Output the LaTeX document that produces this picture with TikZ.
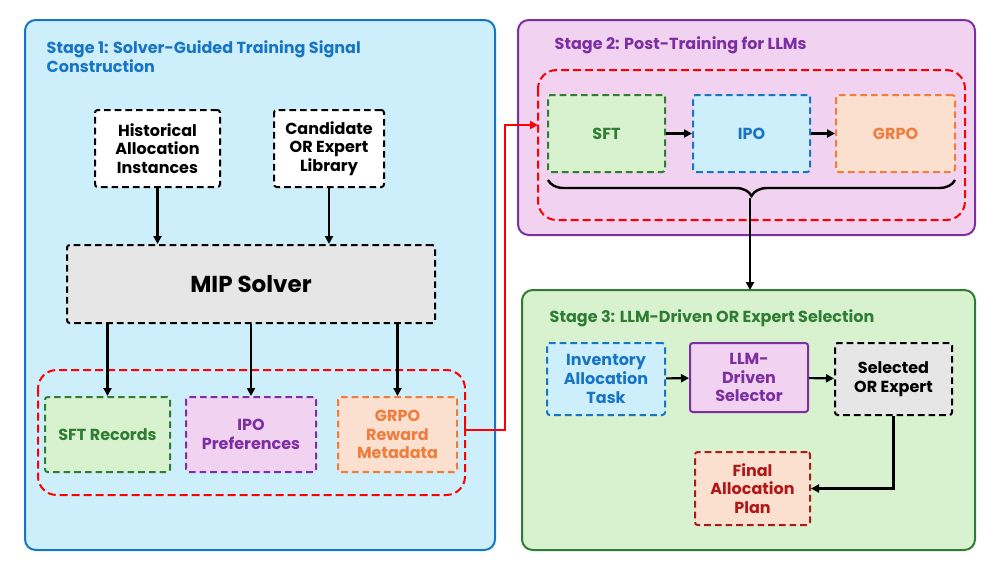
\documentclass[tikz,border=0pt]{standalone}
\usepackage{fontspec}
\setmainfont{Poppins}
\usetikzlibrary{arrows.meta,decorations.pathreplacing}
\definecolor{bluebg}{HTML}{CDEEFB}\definecolor{blueln}{HTML}{1874C4}
\definecolor{pinkbg}{HTML}{F1D2F0}\definecolor{purpln}{HTML}{7B2FA0}
\definecolor{greenbg}{HTML}{D8F2D0}\definecolor{greenln}{HTML}{2E7D32}
\definecolor{peach}{HTML}{FBE0D0}\definecolor{orng}{HTML}{EE7D3E}
\definecolor{grayf}{HTML}{E6E6E6}\definecolor{dred}{HTML}{B01818}
\begin{document}
\begin{tikzpicture}[x=0.75pt,y=-0.75pt,
 stage/.style={draw,line width=1.5pt,rounded corners=8pt},
 box/.style={draw,line width=1.5pt,dash pattern=on 5pt off 3pt,rounded corners=2pt,align=center,font=\bfseries\large,inner sep=1pt},
 grp/.style={draw=red,line width=1.5pt,dash pattern=on 6pt off 3pt,rounded corners=14pt},
 arr/.style={-{Triangle[length=6pt,width=6pt]},line width=1.6pt},
 ttl/.style={anchor=west,font=\bfseries\large,align=left}]
\path[use as bounding box] (0,0) rectangle (996,561);
% Stage 1
\draw[stage,draw=blueln,fill=bluebg] (25,20) rectangle (495,550);
\node[ttl,text=blueln,anchor=north west] (t1) at (42,36) {Stage 1: Solver-Guided Training Signal\\Construction};
\node[box,fill=white,minimum width=125*0.75pt,minimum height=77*0.75pt] (hist) at (157.5,148.5) {Historical\\Allocation\\Instances};
\node[box,fill=white,minimum width=110*0.75pt,minimum height=77*0.75pt] (cand) at (329,148.5) {Candidate\\OR Expert\\Library};
\node[box,fill=grayf,minimum width=368*0.75pt,minimum height=78*0.75pt,font=\bfseries\LARGE] (mip) at (251,284) {MIP Solver};
\draw[grp] (38,370) rectangle (465,495);
\coordinate (g1r) at (465,430);
\node[box,draw=greenln,text=greenln,fill=greenbg,minimum width=125*0.75pt,minimum height=75*0.75pt] (sftr) at (107.5,434.5) {SFT Records};
\node[box,draw=purpln,text=purpln,fill=pinkbg,minimum width=130*0.75pt,minimum height=75*0.75pt] (ipop) at (251,434.5) {IPO\\Preferences};
\node[box,draw=orng,text=orng,fill=peach,minimum width=119*0.75pt,minimum height=75*0.75pt] (grpor) at (397.5,434.5) {GRPO\\Reward\\Metadata};
\draw[arr] (hist.south) -- (hist.south|-mip.north);
\draw[arr] (cand.south) -- (cand.south|-mip.north);
\draw[arr] (mip.south-|sftr) -- (sftr.north);
\draw[arr] (mip.south-|ipop) -- (ipop.north);
\draw[arr] (mip.south-|grpor) -- (grpor.north);
% Stage 2
\draw[stage,draw=purpln,fill=pinkbg] (518,20) rectangle (975,235);
\node[ttl,text=purpln] (t2) at (550,45) {Stage 2: Post-Training for LLMs};
\draw[grp] (538,70) rectangle (965,220);
\coordinate (g2l) at (538,125);
\node[box,draw=greenln,text=greenln,fill=greenbg,minimum width=117*0.75pt,minimum height=77*0.75pt] (sft) at (606.5,133.5) {SFT};
\node[box,draw=blueln,text=blueln,fill=bluebg,minimum width=117*0.75pt,minimum height=77*0.75pt] (ipo) at (751.5,133.5) {IPO};
\node[box,draw=orng,text=orng,fill=peach,minimum width=119*0.75pt,minimum height=77*0.75pt] (grpo) at (895.5,133.5) {GRPO};
\draw[arr] (sft) -- (ipo);
\draw[arr] (ipo) -- (grpo);
\draw[decorate,decoration={brace,mirror,amplitude=12pt},line width=1.8pt] (548,180) -- (955,180);
\coordinate (bt) at (750,198);
% Stage 3
\draw[stage,draw=greenln,fill=greenbg] (522,290) rectangle (975,550);
\node[ttl,text=greenln] (t3) at (545,318) {Stage 3: LLM-Driven OR Expert Selection};
\draw[arr] (bt) -- (750,290);
\node[box,draw=blueln,text=blueln,fill=bluebg,minimum width=118*0.75pt,minimum height=72*0.75pt] (inv) at (606,379) {Inventory\\Allocation\\Task};
\node[box,solid,draw=purpln,text=purpln,fill=pinkbg,minimum width=118*0.75pt,minimum height=69*0.75pt] (sel) at (749,377.5) {LLM-\\Driven\\Selector};
\node[box,fill=grayf,minimum width=117*0.75pt,minimum height=72*0.75pt] (exp) at (893.5,379) {Selected\\OR Expert};
\node[box,draw=dred,text=dred,fill=peach,minimum width=115*0.75pt,minimum height=73*0.75pt] (fin) at (752.5,488.5) {Final\\Allocation\\Plan};
\draw[arr] (inv) -- (sel);
\draw[arr] (sel) -- (exp);
\draw[arr] (exp.south) |- (fin.east);
% red connector
\draw[red,line width=1.5pt] (g1r) ++(0,-6) -- ++(0,12);
\draw[red,line width=1.5pt,-{Triangle[length=6pt,width=6pt]}] (g1r) -- (505,430) -- (505,125) -- (g2l);
\end{tikzpicture}
\end{document}
